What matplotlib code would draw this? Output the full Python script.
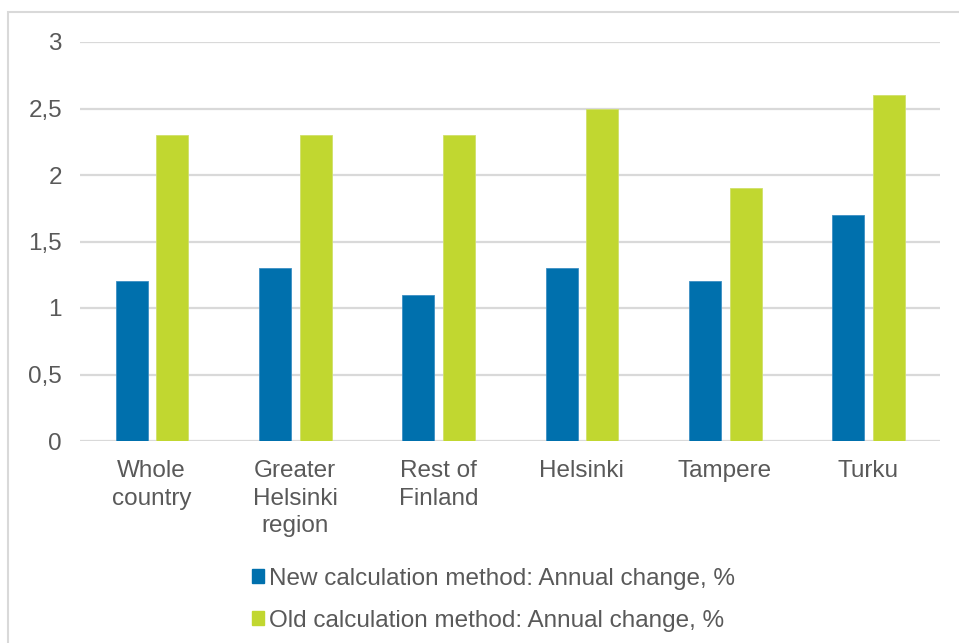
import matplotlib
matplotlib.use("Agg")
import matplotlib.pyplot as plt
from matplotlib.patches import Rectangle, Patch
import numpy as np

categories = ["Whole\ncountry", "Greater\nHelsinki\nregion", "Rest of\nFinland", "Helsinki", "Tampere", "Turku"]
new_method = [1.2, 1.3, 1.1, 1.3, 1.2, 1.7]
old_method = [2.3, 2.3, 2.3, 2.5, 1.9, 2.6]
series_names = ["New calculation method: Annual change, %", "Old calculation method: Annual change, %"]
yticks = [0, 0.5, 1, 1.5, 2, 2.5, 3]
ytick_labels = ["0", "0,5", "1", "1,5", "2", "2,5", "3"]

blue = "#0070ad"
green = "#c1d730"
txt = "#595959"
grid = "#d9d9d9"

plt.rcParams['font.family'] = ['Liberation Sans', 'DejaVu Sans']

W, H = 959, 643
fig = plt.figure(figsize=(W / 100, H / 100), dpi=100)
fig.patch.set_facecolor("white")
fig.patches.append(Rectangle((8 / W, -0.05), 1.2, 1 - 12 / H + 0.05, transform=fig.transFigure,
                             fill=False, edgecolor=grid, linewidth=1.5))

ax = fig.add_axes([80 / W, 1 - 441 / H, 860 / W, (441 - 42) / H])
x = np.arange(len(categories))
bw = 0.223
ax.bar(x - 0.14, new_method, bw, color=blue, edgecolor="#3d8fc4", linewidth=0.6, zorder=3)
ax.bar(x + 0.145, old_method, bw, color=green, edgecolor="#d0e06a", linewidth=0.6, zorder=3)

ax.set_xlim(-0.5, len(categories) - 0.5)
ax.set_ylim(0, 3)
ax.set_yticks(yticks)
ax.set_yticklabels(ytick_labels)
ax.set_xticks(x)
ax.set_xticklabels(categories, linespacing=1.3)
ax.tick_params(axis='y', length=0, pad=13, labelsize=17.5, labelcolor=txt)
ax.tick_params(axis='x', length=0, pad=14, labelsize=17.5, labelcolor=txt)
ax.yaxis.grid(True, color=grid, linewidth=1.6, zorder=0)
for s in ax.spines.values():
    s.set_visible(False)

handles = [Patch(facecolor=blue, edgecolor=blue), Patch(facecolor=green, edgecolor=green)]
fig.legend(handles, series_names, loc="upper left", bbox_to_anchor=(252 / W, 1 - 568 / H),
           frameon=False, fontsize=17.5, labelcolor=txt, handlelength=0.5, handleheight=0.5,
           handletextpad=0.2, labelspacing=0.82, borderaxespad=0, borderpad=0)

fig.savefig("out.png", dpi=100, facecolor="white")
